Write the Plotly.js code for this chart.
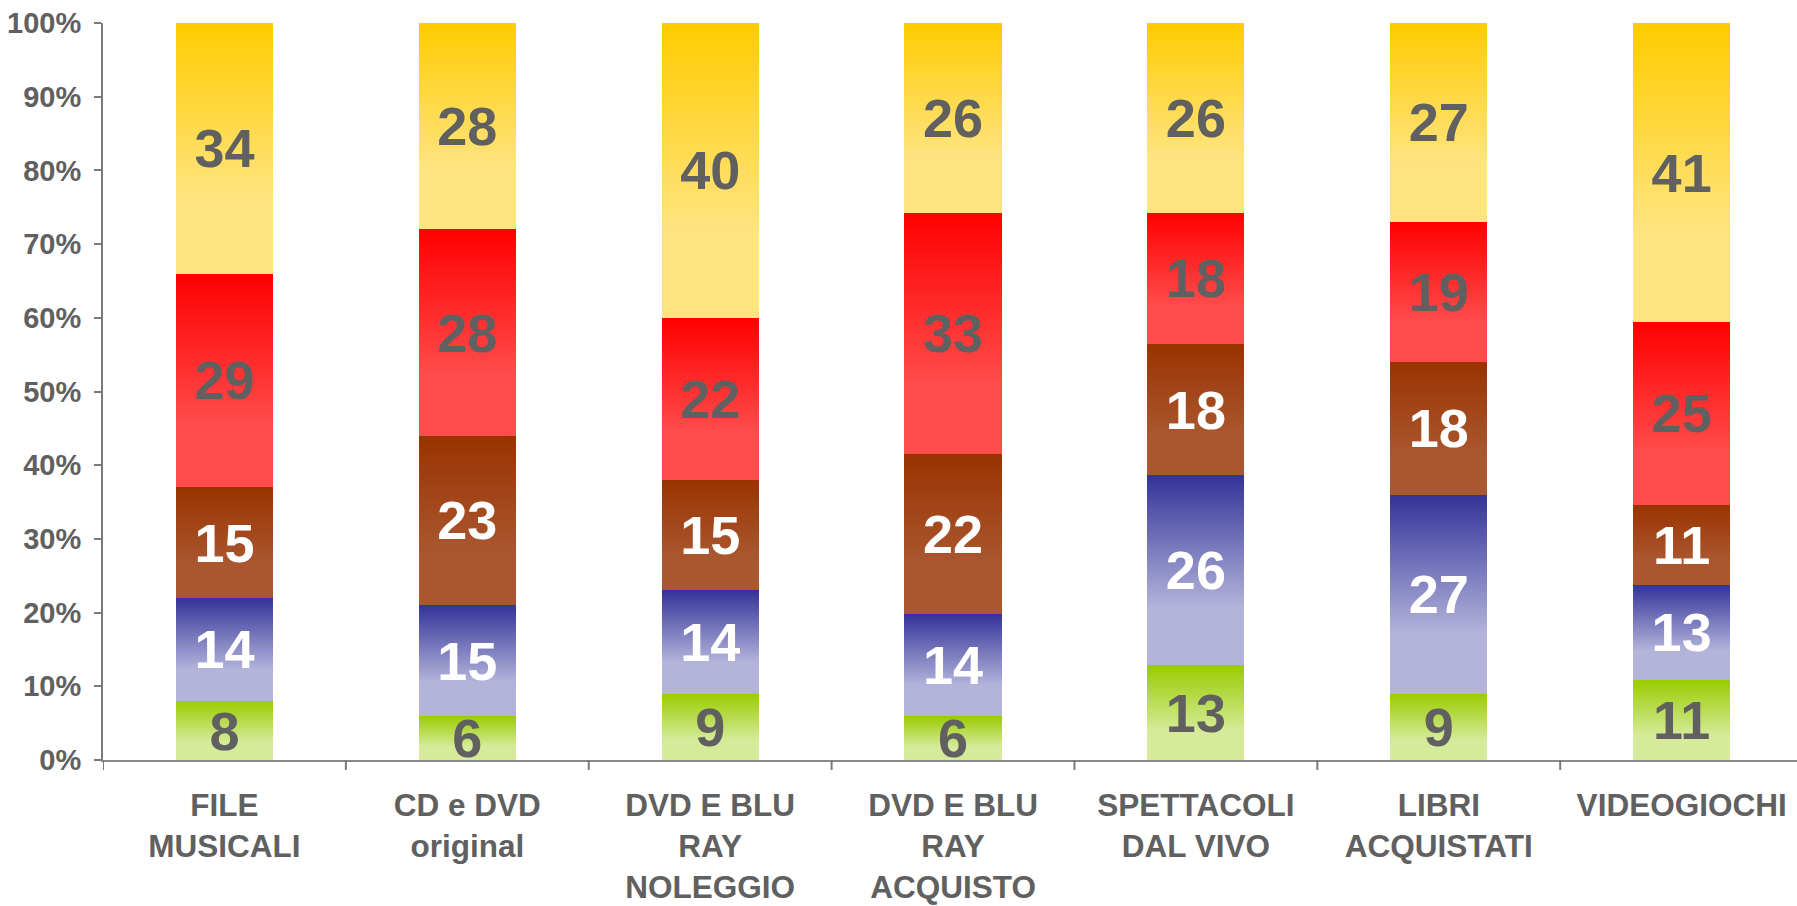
<!DOCTYPE html>
<html>
<head>
<meta charset="utf-8">
<script src="https://cdn.plot.ly/plotly-3.0.1.min.js"></script>
<style>
html,body{margin:0;padding:0;background:#fff;}
#chart{width:1797px;height:906px;}
</style>
</head>
<body>
<div id="chart"></div>
<script>
// Categories (x-axis tick labels)
const categories = ["FILE<br>MUSICALI", "CD e DVD<br>original", "DVD E BLU<br>RAY<br>NOLEGGIO", "DVD E BLU<br>RAY<br>ACQUISTO", "SPETTACOLI<br>DAL VIVO", "LIBRI<br>ACQUISTATI", "VIDEOGIOCHI"];

// Series values, bottom to top
const greenVals  = [8, 6, 9, 6, 13, 9, 11];
const blueVals   = [14, 15, 14, 14, 26, 27, 13];
const brownVals  = [15, 23, 15, 22, 18, 18, 11];
const redVals    = [29, 28, 22, 33, 18, 19, 25];
const yellowVals = [34, 28, 40, 26, 26, 27, 41];

const seriesValues = [greenVals, blueVals, brownVals, redVals, yellowVals];

// Styles
const gradStops = [
  ["#99CC00", "#D6EB9A"],
  ["#333399", "#B4B4DB"],
  ["#993300", "#AA5730"],
  ["#FF0000", "#FF4B4B"],
  ["#FFCC00", "#FFE480"]
];
const textColors = ["#606060", "#FFFFFF", "#FFFFFF", "#606060", "#606060"];
const fontFam = "Liberation Sans, Arial, sans-serif";

const xIdx = categories.map((c, i) => i);

const traces = seriesValues.map((vals, k) => ({
  type: "bar",
  x: xIdx,
  y: vals,
  text: vals.map(String),
  textposition: "inside",
  insidetextanchor: "middle",
  textangle: 0,
  constraintext: "none",
  textfont: {family: fontFam, size: 54, color: textColors[k], weight: 700},
  marker: {color: gradStops[k][1], line: {width: 0}},
  hoverinfo: "none",
  showlegend: false
}));

const layout = {
  width: 1797,
  height: 906,
  margin: {l: 103, r: 0, t: 23, b: 146, pad: 0},
  paper_bgcolor: "#FFFFFF",
  plot_bgcolor: "#FFFFFF",
  barmode: "stack",
  barnorm: "percent",
  bargap: 0.6,
  showlegend: false,
  uniformtext: {mode: "show", minsize: 54},
  font: {family: fontFam, color: "#606060"},
  xaxis: {
    type: "linear",
    range: [-0.5, 6.475],
    tickmode: "array",
    tickvals: xIdx,
    ticktext: categories,
    ticks: "",
    ticklabelstandoff: 16,
    showgrid: false,
    zeroline: false,
    showline: true,
    linecolor: "#8A8A8A",
    linewidth: 2,
    tickfont: {family: fontFam, size: 31.5, color: "#606060", weight: 700},
    fixedrange: true
  },
  yaxis: {
    range: [0, 100],
    tickmode: "linear",
    tick0: 0,
    dtick: 10,
    ticksuffix: "%",
    ticks: "outside",
    ticklen: 7,
    tickwidth: 2,
    tickcolor: "#7A7A7A",
    ticklabelstandoff: 7,
    showgrid: false,
    zeroline: false,
    showline: true,
    linecolor: "#7A7A7A",
    linewidth: 2,
    tickfont: {family: fontFam, size: 29, color: "#606060", weight: 700},
    fixedrange: true
  },
  shapes: xIdx.concat([xIdx.length]).map(i => ({
    type: "line", xref: "x", yref: "paper",
    x0: i - 0.5, x1: i - 0.5, y0: 0, y1: -0.0135,
    line: {color: "#7A7A7A", width: 2}
  }))
};

Plotly.newPlot("chart", traces, layout, {staticPlot: true, displayModeBar: false}).then(gd => {
  const svg = gd.querySelector("svg.main-svg");
  const NS = "http://www.w3.org/2000/svg";
  let defs = svg.querySelector("defs");
  if (!defs) { defs = document.createElementNS(NS, "defs"); svg.insertBefore(defs, svg.firstChild); }
  gradStops.forEach((st, k) => {
    const lg = document.createElementNS(NS, "linearGradient");
    lg.setAttribute("id", "barGrad" + k);
    lg.setAttribute("x1", "0"); lg.setAttribute("y1", "0");
    lg.setAttribute("x2", "0"); lg.setAttribute("y2", "1");
    [[0, st[0]], [0.7, st[1]], [1, st[1]]].forEach(([o, c]) => {
      const s = document.createElementNS(NS, "stop");
      s.setAttribute("offset", String(o));
      s.setAttribute("stop-color", c);
      lg.appendChild(s);
    });
    defs.appendChild(lg);
  });
  const traceGroups = svg.querySelectorAll(".barlayer .trace.bars");
  traceGroups.forEach((g, k) => {
    g.querySelectorAll(".point path").forEach(p => {
      p.style.fill = "url(#barGrad" + k + ")";
    });
  });
});
</script>
</body>
</html>
